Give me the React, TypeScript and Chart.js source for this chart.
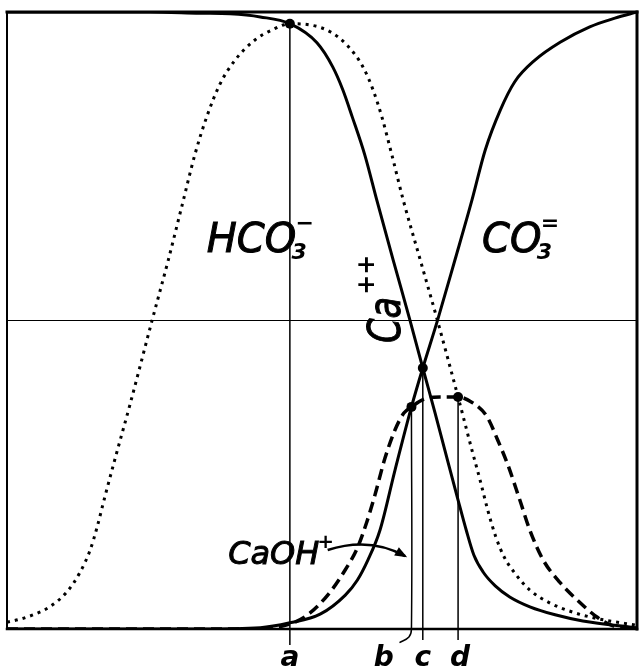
import React, { useEffect, useRef } from 'react';
import { Chart, registerables } from 'chart.js';

Chart.register(...registerables);

// Ca++ fraction (solid, falling)
const caX = [0, 22.7, 30.6, 35.4, 40.2, 44.9, 49.2, 51.7, 53.3, 54.8, 56.8, 58.7, 61.3, 64.0, 66.0, 67.9, 69.5, 71.6, 72.9, 74.1, 75.6, 77.5, 79.8, 83.0, 87.0, 91.4, 100];
const caY = [1, 1, 0.998, 0.997, 0.992, 0.981, 0.95, 0.911, 0.874, 0.83, 0.768, 0.695, 0.598, 0.499, 0.423, 0.352, 0.29, 0.209, 0.16, 0.12, 0.092, 0.07, 0.052, 0.036, 0.023, 0.013, 0.002];

// CO3= fraction (solid, rising)
const co3X = [0, 30.6, 40.2, 44.9, 49.7, 53.7, 55.6, 57.3, 59.2, 61.6, 64.2, 66.0, 68.3, 71.1, 73.8, 75.9, 78.3, 80.6, 83.8, 87.8, 92.5, 96.5, 100];
const co3Y = [0, 0, 0.002, 0.01, 0.024, 0.055, 0.079, 0.112, 0.16, 0.258, 0.36, 0.423, 0.499, 0.598, 0.695, 0.776, 0.841, 0.887, 0.922, 0.951, 0.976, 0.99, 1];

// HCO3- fraction (dotted bell)
const hco3X = [0, 2.1, 4.4, 6.8, 9.5, 11.6, 13.2, 14.3, 15.4, 17.1, 19.5, 23.0, 25.6, 27.8, 29.8, 31.7, 33.8, 36.2, 39.4, 42.1, 44.9, 48.1, 51.3, 54.1, 56.5, 58.1, 59.5, 61.1, 62.9, 65.6, 68.3, 71.6, 73.8, 75.1, 76.3, 77.6, 79.0, 80.8, 83.0, 86.2, 90.2, 94.1, 100];
const hco3Y = [0.011, 0.016, 0.024, 0.036, 0.06, 0.092, 0.128, 0.165, 0.209, 0.274, 0.363, 0.499, 0.598, 0.687, 0.768, 0.83, 0.883, 0.922, 0.955, 0.971, 0.981, 0.979, 0.968, 0.945, 0.911, 0.874, 0.83, 0.768, 0.695, 0.598, 0.501, 0.376, 0.29, 0.241, 0.193, 0.149, 0.115, 0.088, 0.063, 0.042, 0.026, 0.016, 0.006];

// CaOH+ fraction (dashed, flat top)
const caohX = [0, 38.6, 44.9, 48.1, 51.3, 53.7, 55.6, 57.1, 58.4, 60.0, 61.6, 63.0, 64.2, 66.3, 68.7, 71.6, 74.0, 76.2, 77.9, 79.5, 81.4, 83.0, 85.1, 87.8, 90.5, 93.7, 96.0, 100];
const caohY = [0, 0, 0.008, 0.026, 0.06, 0.096, 0.131, 0.173, 0.217, 0.277, 0.323, 0.35, 0.36, 0.373, 0.376, 0.376, 0.366, 0.344, 0.306, 0.266, 0.209, 0.16, 0.112, 0.075, 0.047, 0.019, 0.006, 0];

// Marked points a, b, c, d
const markNames = ['a', 'b', 'c', 'd'];
const markX = [44.9, 64.2, 66.0, 71.6];
const markY = [0.981, 0.36, 0.423, 0.376];

const FONT = '"DejaVu Sans", sans-serif';

const pts = (xs: number[], ys: number[]) => xs.map((x, i) => ({ x, y: ys[i] }));

const curve = (xs: number[], ys: number[], extra: any = {}) => ({
  data: pts(xs, ys),
  borderColor: '#000',
  borderWidth: 3,
  pointRadius: 0,
  cubicInterpolationMode: 'monotone',
  fill: false,
  ...extra,
});

// Vertical drop lines from each mark to just below the axis
const dropLines = markX.map((x, i) => {
  const isB = markNames[i] === 'b';
  const data = isB
    ? [{ x, y: markY[i] }, { x, y: 0.0 }, { x: x - 0.4, y: -0.013 }, { x: x - 1.9, y: -0.022 }]
    : [{ x, y: markY[i] }, { x, y: markNames[i] === 'a' ? -0.026 : -0.018 }];
  return {
    data,
    borderColor: '#000',
    borderWidth: 1.5,
    pointRadius: 0,
    tension: isB ? 0.4 : 0,
    clip: false,
    fill: false,
  };
});

const framePlugin = {
  id: 'frame',
  beforeDatasetsDraw(chart: any) {
    const { ctx, chartArea: a } = chart;
    ctx.save();
    ctx.strokeStyle = '#000';
    ctx.lineCap = 'square';
    const seg = (x1: number, y1: number, x2: number, y2: number, w: number) => {
      ctx.lineWidth = w;
      ctx.beginPath();
      ctx.moveTo(x1, y1);
      ctx.lineTo(x2, y2);
      ctx.stroke();
    };
    seg(a.left, a.top, a.right, a.top, 3);
    seg(a.left, a.top, a.left, a.bottom, 2);
    seg(a.right, a.top, a.right, a.bottom, 3);
    seg(a.left, a.bottom, a.right, a.bottom, 2.5);
    ctx.restore();
  },
};

const labelPlugin = {
  id: 'labels',
  afterDraw(chart: any) {
    const { ctx, chartArea: a } = chart;
    const xs = chart.scales.x;
    const ys = chart.scales.y;
    const px = (v: number) => xs.getPixelForValue(v);
    const py = (v: number) => ys.getPixelForValue(v);
    ctx.save();
    ctx.fillStyle = '#000';
    ctx.strokeStyle = '#000';
    ctx.textBaseline = 'alphabetic';
    ctx.textAlign = 'left';

    const chem = (x: number, y: number, main: string, sub: string, sup: string, size: number) => {
      ctx.font = `italic ${size}px ${FONT}`;
      ctx.lineWidth = 1;
      ctx.fillText(main, x, y);
      ctx.strokeText(main, x, y);
      const w = ctx.measureText(main).width;
      ctx.font = `italic bold ${Math.round(size * 0.55)}px ${FONT}`;
      ctx.fillText(sub, x + w - size * 0.12, y + size * 0.18);
      ctx.fillText(sup, x + w - size * 0.02, y - size * 0.55);
    };

    chem(px(31.7), py(0.611), 'HCO', '3', '−', 40);
    chem(px(75.4), py(0.611), 'CO', '3', '=', 40);

    // Ca++ written upward along the falling curve
    ctx.save();
    ctx.translate(px(62.4), py(0.4635));
    ctx.rotate(-Math.PI / 2);
    ctx.save();
    ctx.scale(0.8, 1);
    ctx.font = `italic 44px ${FONT}`;
    ctx.lineWidth = 1;
    ctx.fillText('Ca', 0, 0);
    ctx.strokeText('Ca', 0, 0);
    const cw = ctx.measureText('Ca').width * 0.8;
    ctx.restore();
    ctx.font = `bold 24px ${FONT}`;
    ctx.fillText('++', cw + 2, -26);
    ctx.restore();

    // CaOH+ with arrow
    ctx.font = `italic 32px ${FONT}`;
    ctx.lineWidth = 1;
    ctx.fillText('CaOH', px(35.1), py(0.105));
    ctx.strokeText('CaOH', px(35.1), py(0.105));
    const ow = ctx.measureText('CaOH').width;
    ctx.font = `bold 20px ${FONT}`;
    ctx.fillText('+', px(35.1) + ow - 2, py(0.105) - 16);
    const sx = px(50.9), sy = py(0.128);
    const qx = px(57.6), qy = py(0.15);
    const ex = px(63.2), ey = py(0.118);
    ctx.lineWidth = 2.5;
    ctx.beginPath();
    ctx.moveTo(sx, sy);
    ctx.quadraticCurveTo(qx, qy, ex, ey);
    ctx.stroke();
    const ang = Math.atan2(ey - qy, ex - qx);
    ctx.beginPath();
    ctx.moveTo(ex + 2, ey + 1);
    ctx.lineTo(ex - 11 * Math.cos(ang - 0.45), ey - 11 * Math.sin(ang - 0.45));
    ctx.lineTo(ex - 11 * Math.cos(ang + 0.45), ey - 11 * Math.sin(ang + 0.45));
    ctx.closePath();
    ctx.fill();

    // letters under the axis
    ctx.font = `italic bold 28px ${FONT}`;
    ctx.textAlign = 'center';
    markNames.forEach((n, i) => {
      const lx = n === 'b' ? px(markX[i] - 4.4) : px(markX[i]) + (n === 'd' ? 2 : 0);
      ctx.fillText(n, lx, a.bottom + 37);
    });
    ctx.restore();
  },
};

export default function App() {
  const ref = useRef<HTMLCanvasElement | null>(null);
  useEffect(() => {
    if (!ref.current) return;
    const chart = new Chart(ref.current, {
      type: 'line',
      data: {
        datasets: [
          curve(hco3X, hco3Y, { borderDash: [3, 5], borderWidth: 3 }),
          curve(caohX, caohY, { borderDash: [11, 6], borderWidth: 3.5 }),
          curve(caX, caY),
          curve(co3X, co3Y),
          ...dropLines,
          {
            data: pts(markX, markY),
            showLine: false,
            pointRadius: 5,
            pointBackgroundColor: '#000',
            pointBorderColor: '#000',
            pointBorderWidth: 0,
            clip: false,
          },
        ] as any,
      },
      options: {
        animation: false,
        responsive: false,
        devicePixelRatio: 1,
        layout: { padding: { left: 7, top: 12, right: 6, bottom: 39 } },
        plugins: { legend: { display: false }, tooltip: { enabled: false } },
        events: [],
        scales: {
          x: {
            type: 'linear',
            min: 0,
            max: 100,
            ticks: { display: false },
            grid: { display: false },
            border: { display: false },
            afterFit: (s: any) => { s.height = 0; },
          },
          y: {
            type: 'linear',
            min: 0,
            max: 1,
            ticks: { display: false, stepSize: 0.5 },
            grid: { color: '#000', lineWidth: 1, drawTicks: false },
            border: { display: false },
            afterFit: (s: any) => { s.width = 0; },
          },
        },
      } as any,
      plugins: [framePlugin, labelPlugin],
    });
    return () => chart.destroy();
  }, []);
  return (
    <div style={{ position: 'absolute', left: 0, top: 0, width: 643, height: 668, background: '#fff' }}>
      <canvas ref={ref} width={643} height={668} style={{ display: 'block' }} />
    </div>
  );
}
